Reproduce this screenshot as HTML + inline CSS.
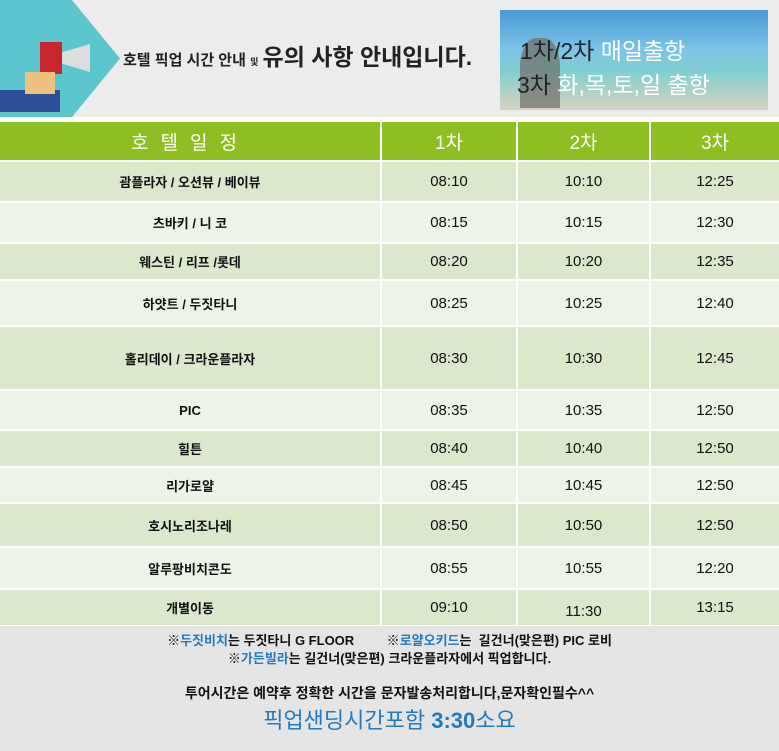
<!DOCTYPE html>
<html><head><meta charset="utf-8"><style>
body{margin:0;width:779px;height:751px;overflow:hidden;background:#fff;font-family:"Liberation Sans","Noto Sans CJK KR",sans-serif;position:relative}
.a{position:absolute}
table{position:absolute;left:0;top:122px;width:779px;border-collapse:collapse;table-layout:fixed}
td{text-align:center;border-left:2px solid #fff;border-bottom:2px solid #fff;padding:0;font-size:15px;color:#111}
td:first-child{border-left:none;font-size:13px;font-weight:bold}
tr.h td{background:#8dbf22;color:#fff;font-size:19px;font-weight:normal;border-bottom:2px solid #fff}
tr.g td{background:#dce8cc}
tr.w td{background:#eef3e8}
.b{color:#1f7cc4}
</style></head><body>
<div class="a" style="left:0;top:0;width:779px;height:117px;background:#ececec"></div>
<div class="a" style="left:0;top:0;width:120px;height:117px;background:#5cc6cf;clip-path:polygon(0 0,60% 0,100% 50%,60% 100%,0 100%)"></div>
<div class="a" style="left:40px;top:42px;width:22px;height:32px;background:#c8262e"></div>
<div class="a" style="left:62px;top:44px;width:28px;height:28px;background:#ddd;clip-path:polygon(0 30%,100% 0,100% 100%,0 70%)"></div>
<div class="a" style="left:0;top:90px;width:60px;height:22px;background:#2f4f9a"></div>
<div class="a" style="left:25px;top:72px;width:30px;height:22px;background:#f0c080"></div>
<div class="a" style="left:123px;top:38px;font-size:15px;font-weight:bold;color:#222">호텔 픽업 시간 안내 <span style="font-size:9px">및</span> <span style="font-size:23px">유의 사항 안내입니다.</span></div>
<div class="a" style="left:500px;top:10px;width:268px;height:100px;background:linear-gradient(#4a9ad6,#7cc3e8 40%,#7fcfd0 60%,#d8d2c0)"></div>
<div class="a" style="left:520px;top:38px;width:40px;height:70px;background:#6d6d66;border-radius:40% 40% 0 0;opacity:.7"></div>
<div class="a" style="left:520px;top:32px;font-size:23px;color:#222">1차/2차 <span style="color:#fff">매일출항</span></div>
<div class="a" style="left:517px;top:66px;font-size:23px;color:#222">3차 <span style="color:#fff">화,목,토,일 출항</span></div>
<table>
<colgroup><col style="width:381px"><col style="width:136px"><col style="width:133px"><col></colgroup>
<tr class="h" style="height:39px"><td style="font-size:19px;letter-spacing:12px">호텔일정</td><td>1차</td><td>2차</td><td>3차</td></tr>
<tr class="g" style="height:41px"><td>괌플라자 / 오션뷰 / 베이뷰</td><td>08:10</td><td>10:10</td><td>12:25</td></tr>
<tr class="w" style="height:41px"><td>츠바키 / 니 코</td><td>08:15</td><td>10:15</td><td>12:30</td></tr>
<tr class="g" style="height:37px"><td>웨스틴 / 리프 /롯데</td><td>08:20</td><td>10:20</td><td>12:35</td></tr>
<tr class="w" style="height:46px"><td>하얏트 / 두짓타니</td><td>08:25</td><td>10:25</td><td>12:40</td></tr>
<tr class="g" style="height:64px"><td>홀리데이 / 크라운플라자</td><td>08:30</td><td>10:30</td><td>12:45</td></tr>
<tr class="w" style="height:40px"><td>PIC</td><td>08:35</td><td>10:35</td><td>12:50</td></tr>
<tr class="g" style="height:37px"><td>힐튼</td><td>08:40</td><td>10:40</td><td>12:50</td></tr>
<tr class="w" style="height:36px"><td>리가로얄</td><td>08:45</td><td>10:45</td><td>12:50</td></tr>
<tr class="g" style="height:44px"><td>호시노리조나레</td><td>08:50</td><td>10:50</td><td>12:50</td></tr>
<tr class="w" style="height:42px"><td>알루팡비치콘도</td><td>08:55</td><td>10:55</td><td>12:20</td></tr>
<tr class="g" style="height:37px"><td>개별이동</td><td>09:10</td><td style="padding-top:8px">11:30</td><td>13:15</td></tr>
</table>
<div class="a" style="left:0;top:626px;width:779px;height:125px;background:#e5e5e5"></div>
<div class="a" style="left:0;top:632px;width:779px;text-align:center;font-size:13px;font-weight:bold;color:#111;line-height:18px">※<span class="b">두짓비치</span>는 두짓타니 G FLOOR &nbsp;&nbsp;&nbsp;&nbsp;&nbsp;&nbsp;&nbsp;&nbsp;※<span class="b">로얄오키드</span>는 &nbsp;길건너(맞은편) PIC 로비<br>※<span class="b">가든빌라</span>는 길건너(맞은편) 크라운플라자에서 픽업합니다.</div>
<div class="a" style="left:0;top:683px;width:779px;text-align:center;font-size:14px;font-weight:bold;color:#111">투어시간은 예약후 정확한 시간을 문자발송처리합니다,문자확인필수^^</div>
<div class="a" style="left:0;top:703px;width:779px;text-align:center;font-size:22px;color:#1f7cc4">픽업샌딩시간포함 <b>3:30</b>소요</div>
</body></html>
